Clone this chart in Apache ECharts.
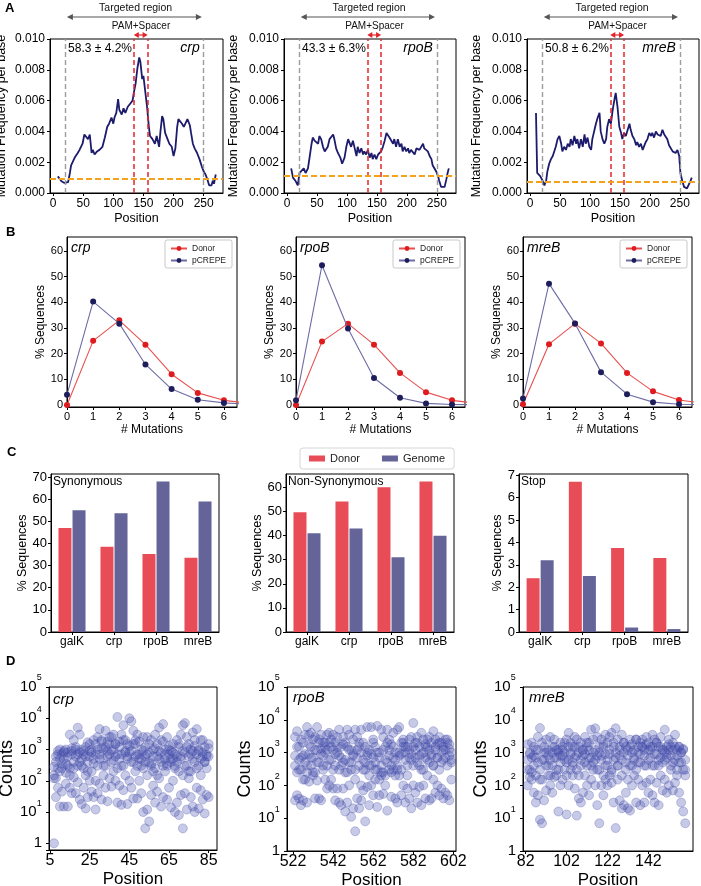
<!DOCTYPE html>
<html><head><meta charset="utf-8">
<script src="https://cdn.jsdelivr.net/npm/echarts@6/dist/echarts.min.js"></script>
<style>html,body{margin:0;padding:0;background:#fff}#c{width:701px;height:886px}</style>
</head><body><div id="c"></div>
<script>
// ================= DATA =================
const genes = ['crp', 'rpoB', 'mreB'];
// --- Panel A: mutation frequency per base ---
const aPercent = ['58.3 ± 4.2%', '43.3 ± 6.3%', '50.8 ± 6.2%'];
const aBaseline = [0.0009, 0.0011, 0.0007];
const regionBounds = [20, 250];
const pamBounds = [134, 157];
const posTicksA = [0, 50, 100, 150, 200, 250];
const crpPos = [8,14,19,25,28,30,36,41,44,49,52,55,58,61,64,66,69,73,77,82,86,90,93,97,100,102,105,108,110,114,117,120,124,128,132,134,137,140,143,145,148,150,153,156,159,161,165,169,172,176,178,181,183,186,190,193,197,200,203,206,208,211,214,217,220,223,227,229,232,235,239,243,247,250,253,256,259,263,265,267,270];
const crpFreq = [0.00108,0.00076,0.00065,0.0007,0.0013,0.0018,0.0023,0.0026,0.0028,0.0032,0.0038,0.0037,0.0035,0.0038,0.0026,0.0028,0.0025,0.0027,0.0028,0.003,0.0036,0.0043,0.0045,0.0049,0.0045,0.0049,0.0052,0.0061,0.0054,0.0051,0.0055,0.0052,0.0056,0.0058,0.006,0.0065,0.0071,0.0081,0.0088,0.0085,0.0074,0.0076,0.0066,0.0056,0.0043,0.0037,0.0035,0.0032,0.0037,0.003,0.0039,0.005,0.0048,0.0039,0.0035,0.0032,0.003,0.0024,0.0029,0.0043,0.0048,0.0049,0.0045,0.0043,0.0044,0.0048,0.0044,0.0039,0.0032,0.0029,0.0026,0.0022,0.0017,0.0014,0.0012,0.0009,0.0005,0.0005,0.0008,0.0006,0.0012];
const rpoBPos = [7,10,14,18,21,24,28,31,35,38,41,43,46,49,52,54,57,60,63,66,68,71,74,77,79,82,85,89,92,96,99,102,104,107,110,113,116,118,121,124,127,129,132,135,138,141,143,146,149,152,154,157,160,163,166,168,171,174,177,179,182,185,188,191,193,196,199,202,204,207,210,213,216,218,221,224,227,229,232,235,238,241,243,246,249,252,254,257,260,263,266,268,270];
const rpoBFreq = [0.0016,0.001,0.0008,0.0005,0.0013,0.0012,0.0016,0.0013,0.0016,0.0024,0.0032,0.0036,0.0034,0.0035,0.0032,0.0037,0.0035,0.003,0.0027,0.0028,0.003,0.0035,0.0035,0.0038,0.0035,0.0029,0.0026,0.0023,0.0019,0.0023,0.003,0.0035,0.0036,0.003,0.0034,0.0029,0.0024,0.003,0.0026,0.0029,0.0025,0.0027,0.0025,0.0028,0.0023,0.0026,0.0022,0.0025,0.0022,0.0025,0.0024,0.0027,0.003,0.0034,0.0039,0.004,0.0036,0.0037,0.0032,0.0035,0.003,0.0035,0.003,0.0032,0.0027,0.003,0.0027,0.0029,0.0026,0.0028,0.0027,0.0025,0.0029,0.003,0.0028,0.0029,0.0032,0.0029,0.0029,0.0027,0.0024,0.0022,0.0018,0.0017,0.0014,0.0011,0.0008,0.0004,0.0003,0.0004,0.0009,0.0013,0.0016];
const mreBPos = [10,12,17,21,24,27,29,32,35,38,41,43,46,49,52,54,57,60,63,66,68,71,74,77,79,82,85,88,91,93,96,99,102,104,107,110,113,116,118,121,124,127,129,132,135,138,141,143,146,149,152,154,157,160,163,166,168,171,174,177,179,182,185,188,191,193,196,199,202,204,207,210,213,216,218,221,224,227,229,232,235,238,241,243,246,249,251,254,257,259,262,265,268,270];
const mreBFreq = [0.0052,0.0013,0.0011,0.0008,0.0005,0.0008,0.0014,0.0019,0.0022,0.0024,0.0023,0.003,0.0035,0.0037,0.0032,0.0027,0.003,0.0028,0.0032,0.003,0.0035,0.0031,0.0037,0.0032,0.0035,0.0029,0.0035,0.003,0.0038,0.0032,0.0036,0.003,0.0028,0.0035,0.0035,0.0045,0.0049,0.0052,0.004,0.0035,0.0032,0.0035,0.0043,0.0048,0.0045,0.0054,0.0061,0.0065,0.0056,0.0043,0.0039,0.0035,0.0039,0.0037,0.0041,0.0045,0.0041,0.0037,0.0035,0.0031,0.0033,0.003,0.0032,0.0028,0.0029,0.0033,0.0035,0.0039,0.0037,0.0039,0.0036,0.004,0.0038,0.0039,0.0037,0.0041,0.0038,0.0039,0.0035,0.0031,0.003,0.0027,0.0028,0.0026,0.0028,0.0024,0.0013,0.0008,0.0004,0.0003,0.0003,0.0004,0.0008,0.001];

// --- Panel B: % sequences vs # mutations ---
const mutations = [0, 1, 2, 3, 4, 5, 6, 7];
const mutTicks = [0, 1, 2, 3, 4, 5, 6];
const seqTicksB = [0, 10, 20, 30, 40, 50, 60];
const crpDonor = [0, 25, 33, 23.5, 12, 4.7, 1.8, 0.6];
const crpPcrepe = [4, 40.3, 31.7, 15.8, 6.2, 2, 0.8, 0.2];
const rpoBDonor = [0, 24.7, 31.7, 23.5, 12.5, 5, 1.8, 0.6];
const rpoBPcrepe = [1.8, 54.5, 29.8, 10.5, 2.8, 0.6, 0.2, 0.05];
const mreBDonor = [0.3, 23.7, 31.7, 24, 12.5, 5.3, 1.9, 0.6];
const mreBPcrepe = [2.5, 47.3, 31.8, 12.8, 4.2, 1.1, 0.3, 0.1];

// --- Panel C: mutation classes ---
const geneCats = ['galK', 'crp', 'rpoB', 'mreB'];
const classNames = ['Synonymous', 'Non-Synonymous', 'Stop'];
const synDonor = [47, 38.5, 35.3, 33.6];
const synGenome = [55, 53.7, 68, 59];
const nonDonor = [49.7, 54.2, 60.1, 62.5];
const nonGenome = [41, 43, 31, 40];
const stopDonor = [2.4, 6.7, 3.75, 3.3];
const stopGenome = [3.2, 2.5, 0.2, 0.13];
const cTicks1 = [0, 10, 20, 30, 40, 50, 60, 70];
const cTicks2 = [0, 10, 20, 30, 40, 50, 60];
const cTicks3 = [0, 1, 2, 3, 4, 5, 6, 7];

// --- Panel D: counts per position ---
const crpStart = 7;
const crpCounts = [[1,150,280],[30,120,600],[60,250,900],[15,200,1000],[45,350,700],[15,500,900],[80,180,1000],[15,300,800],[60,250,3000],[40,700,1100],[130,400,2000],[40,600,1000],[90,300,5000],[25,800,3000],[18,500,1000],[60,250,700],[13,150,1200],[30,400,1700],[100,600,900],[45,200,1000],[30,500,2000],[12,100,1500],[40,300,2500],[80,700,4500],[25,1100,2000],[150,500,1000],[60,300,4000],[22,900,1800],[120,700,1500],[65,400,2500],[200,1000,3000],[100,600,1500],[20,250,11000],[70,500,1800],[17,700,3000],[50,300,6000],[150,900,2000],[18,500,1500],[100,800,10000],[60,400,8000],[27,1500,4000],[200,600,2000],[27,300,3000],[100,700,1800],[40,500,1000],[10,250,2500],[3,400,1200],[12,150,700],[5,800,1500],[35,300,2000],[70,600,1000],[20,250,3000],[45,150,1500],[120,500,5000],[15,800,2000],[30,300,6500],[200,500,1000],[25,350,2500],[60,700,1300],[14,400,900],[100,500,1500],[10,300,700],[20,600,2000],[8,200,1200],[35,500,3000],[3,150,6000],[40,800,7000],[12,300,2500],[120,600,1500],[30,200,1000],[15,900,3500],[10,400,2000],[60,700,4500],[13,300,1000],[50,150,2000],[25,600,800],[9,400,1200],[35,250,700],[30,600,1500]];
const crpExtra = [120,400,700,500,250,800,350,600,150,900,250,1200,700,400,300,900,600,200,1500,800,350,700,1000,500,1800,300,1200,600,2500,900,450,1500,700,1200,300,2000,800,600,1300,900,400,1500,700,500,300,900,600,2500,400,350,200,1100,600,900,400,1800,700,300,1000,500,800,250,400,1500,600,900,300,1200,200,700,500,1300,250,900,500,2000,400,600,1100];
const rpoBStart = 523;
const rpoBCounts = [[35,400,3000],[50,250,4500],[40,300,1500],[25,700,2500],[35,150,800],[150,500,3500],[30,250,6000],[130,900,3500],[400,1500,4000],[200,700,2500],[40,250,3000],[140,1200,6000],[40,500,2000],[35,1300,3500],[300,800,2000],[150,1000,1500],[80,400,3500],[100,2000,4000],[150,600,1500],[80,1200,3500],[35,400,2000],[80,1000,3000],[30,300,5000],[25,700,1500],[80,500,3000],[16,250,2000],[30,1500,5000],[100,500,3500],[11,300,1200],[20,800,2500],[4,150,5000],[40,1200,3000],[20,400,1500],[35,100,5000],[70,600,2000],[8,300,1500],[90,1000,6000],[25,200,1200],[100,400,6000],[50,700,2000],[150,500,1500],[22,300,6500],[50,150,1000],[200,400,5000],[55,250,3000],[100,200,1500],[17,500,5000],[300,1200,2500],[45,250,1800],[300,700,4000],[40,200,1000],[30,400,5000],[200,800,6000],[50,300,2000],[100,1500,2500],[30,600,1000],[80,200,1500],[40,700,2500],[20,900,3000],[100,400,8000],[60,1200,2000],[30,500,3000],[90,800,1500],[25,300,4000],[100,1000,2500],[40,700,1500],[200,1500,2500],[35,500,3000],[40,900,2000],[150,400,4500],[60,1200,2500],[100,700,1800],[50,300,3000],[80,1000,2000],[40,600,1500],[60,1200,2500],[50,400,2000],[35,800,1800],[150,500,1000]];
const rpoBExtra = [800,1500,600,300,2000,900,400,1800,700,250,1200,500,2500,900,400,2000,1200,600,2500,300,900,1500,800,400,1800,600,250,1200,500,900,300,700,2000,1000,300,500,800,400,900,2500,300,1000,700,250,1200,600,2000,800,400,1500,600,300,1000,900,2000,1500,400,1200,600,1500,700,2000,400,900,300,1800,600,1200,800,400,1500,700,2000,500,1200,700,2500,1300,600];
const mreBStart = 83;
const mreBCounts = [[100,600,1800],[180,300,1000],[250,700,2000],[60,1500,800],[30,200,1200],[50,500,3000],[9,150,5600],[7,600,2000],[35,1000,1500],[70,400,2500],[200,800,1200],[100,600,3000],[60,400,1000],[180,1500,2500],[200,700,1200],[16,300,1000],[100,800,2000],[150,1200,1500],[300,600,1000],[13,500,2500],[100,1500,4000],[300,900,2000],[200,500,1500],[80,700,3000],[12,300,2500],[40,1000,1500],[30,400,2000],[60,800,1200],[200,500,3000],[100,1500,2000],[50,700,1200],[150,400,5000],[300,1000,2500],[100,600,5500],[25,800,3000],[7,300,1500],[100,600,2500],[50,200,1500],[150,900,3500],[100,400,2000],[200,1200,3000],[120,300,4000],[30,600,2000],[5,1000,5500],[150,400,2500],[35,800,1500],[20,200,3500],[25,1000,2000],[60,500,1500],[20,150,1200],[17,400,2500],[100,1000,1800],[200,600,1200],[30,300,2500],[150,1000,1500],[25,500,2000],[100,1500,2500],[30,800,1200],[120,400,3000],[60,1200,2000],[150,700,1500],[50,1500,3500],[30,400,2500],[120,900,2000],[25,600,1500],[200,1500,3000],[70,500,1200],[150,1000,5000],[60,700,1500],[100,1200,2500],[300,800,1500],[70,500,1200],[120,1500,3500],[200,800,1200],[60,500,1500],[30,1000,1000],[16,300,1300],[7,200,600]];
const mreBExtra = [300,900,150,400,700,1200,300,150,600,1000,400,200,1500,700,300,1200,500,800,2000,200,600,1000,400,1500,800,200,600,1200,900,400,2000,700,500,1200,300,1000,800,1800,400,600,900,250,1500,700,400,1200,600,2000,300,800,1500,400,700,2500,500,900,1500,400,1800,600,1200,400,900,2000,400,700,1200,600,900,1800,400,2000,600,300,1500,500,1200,300];
const dTicks = [[5,25,45,65,85],[522,542,562,582,602],[82,102,122,142]];

// ================= LAYOUT / STYLE =================
const FF = 'Liberation Sans, Arial, Helvetica, sans-serif';
const gridsA = [{left:50,width:173},{left:284,width:172},{left:527,width:172}].map(g=>Object.assign({top:39,height:154},g));
const gridsB = [{left:67,width:170},{left:296,width:169},{left:523,width:169}].map(g=>Object.assign({top:237,height:170},g));
const gridsC = [{left:51,width:168},{left:286,width:168},{left:519,width:169}].map(g=>Object.assign({top:474,height:158},g));
const gridsD = [{left:49,width:168,height:163},{left:287,width:169,height:164},{left:523,width:170,height:164}].map(g=>Object.assign({top:687},g));
const allGrids = [].concat(gridsA, gridsB, gridsC, gridsD).map(g => Object.assign({show:true, borderColor:'#000', borderWidth:1, backgroundColor:'transparent', containLabel:false, outerBoundsMode:'none'}, g));

function mkAxis(gi, type, opt) {
  const a = {type, gridIndex: gi, nameLocation:'middle',
    axisLine:{show:true,onZero:false,lineStyle:{color:'#000',width:1}},
    splitLine:{show:false},
    axisTick:{show:true,length:3,lineStyle:{color:'#000',width:1}},
    axisLabel:{color:'#000',fontFamily:FF,fontSize:12,margin:5},
    nameTextStyle:{color:'#000',fontFamily:FF,fontSize:12}};
  for (const k in opt) {
    if (a[k] && typeof a[k]==='object' && !Array.isArray(a[k]) && opt[k] && typeof opt[k]==='object' && !Array.isArray(opt[k])) a[k]=Object.assign({},a[k],opt[k]);
    else a[k]=opt[k];
  }
  return a;
}

const xAxes = [], yAxes = [], series = [];
const aPos = [crpPos, rpoBPos, mreBPos], aFreq = [crpFreq, rpoBFreq, mreBFreq];
const bDonor = [crpDonor, rpoBDonor, mreBDonor], bPcrepe = [crpPcrepe, rpoBPcrepe, mreBPcrepe];
const cDonor = [synDonor, nonDonor, stopDonor], cGenome = [synGenome, nonGenome, stopGenome];
const cTicks = [cTicks1, cTicks2, cTicks3], cMax = [71.4, 65.6, 7.05];
const dStart = [crpStart, rpoBStart, mreBStart], dCounts = [crpCounts, rpoBCounts, mreBCounts];
const dExtra = [crpExtra, rpoBExtra, mreBExtra];
const dRange = [[4.5, 89.2], [519, 603.3], [80.7, 163.8]];
const dMin = [0.61, 1, 1];

// ---- A ----
for (let i = 0; i < 3; i++) {
  xAxes.push(mkAxis(i, 'value', {min:-5, max:282, name:'Position', nameGap:19, nameTextStyle:{fontSize:12.5},
    axisLabel:{customValues:posTicksA, fontSize:12, margin:5}, axisTick:{customValues:posTicksA}}));
  yAxes.push(mkAxis(i, 'value', {min:0, max:0.01, interval:0.002, name:'Mutation Frequency per base', nameGap: i===0?42:44,
    nameTextStyle:{fontSize:12.5}, axisLabel:{formatter:v=>v.toFixed(3), fontSize:12, margin:5}}));
  series.push({type:'line', xAxisIndex:i, yAxisIndex:i, showSymbol:false, symbol:'none',
    data: aPos[i].map((p,k)=>[p, aFreq[i][k]]),
    lineStyle:{color:'#1d1b6c', width:1.8}, z:3,
    markLine:{silent:true, precision:6, symbol:['none','none'], label:{show:false}, animation:false,
      data:[
        {xAxis:regionBounds[0], lineStyle:{color:'#9b9b9b', type:[5,3], width:1.4}},
        {xAxis:regionBounds[1], lineStyle:{color:'#9b9b9b', type:[5,3], width:1.4}},
        {xAxis:pamBounds[0], lineStyle:{color:'#e3242b', type:[5,3], width:1.5}},
        {xAxis:pamBounds[1], lineStyle:{color:'#e3242b', type:[5,3], width:1.5}},
        {yAxis:aBaseline[i], lineStyle:{color:'#f4a21c', type:[6,3], width:2}}
      ]}});
}
// ---- B ----
for (let i = 0; i < 3; i++) {
  const gi = 3 + i;
  xAxes.push(mkAxis(gi, 'value', {min:0, max:6.5, name:'# Mutations', nameGap:17,
    axisLabel:{customValues:mutTicks, fontSize:11, margin:4}, axisTick:{customValues:mutTicks}}));
  yAxes.push(mkAxis(gi, 'value', {min:-0.8, max:65.5, name:'% Sequences', nameGap:20,
    axisLabel:{customValues:seqTicksB, fontSize:11, margin:4}, axisTick:{customValues:seqTicksB}}));
  series.push({type:'line', name:'Donor', xAxisIndex:gi, yAxisIndex:gi, data:mutations.map((m,k)=>[m,bDonor[i][k]]),
    symbol:'circle', symbolSize:6, lineStyle:{color:'#e8504f', width:1.1}, itemStyle:{color:'#df1b1f'}, z:3});
  series.push({type:'line', name:'pCREPE', xAxisIndex:gi, yAxisIndex:gi, data:mutations.map((m,k)=>[m,bPcrepe[i][k]]),
    symbol:'circle', symbolSize:6, lineStyle:{color:'#6d6da6', width:1.1}, itemStyle:{color:'#1e1d5c'}, z:4});
}
// ---- C ----
for (let i = 0; i < 3; i++) {
  const gi = 6 + i;
  xAxes.push(mkAxis(gi, 'category', {data:geneCats, boundaryGap:true, axisTick:{alignWithLabel:true}, axisLabel:{fontSize:12, margin:4}}));
  yAxes.push(mkAxis(gi, 'value', {min:0, max:cMax[i], name:'% Sequences', nameGap: i===2?15:22, nameTextStyle:{fontSize:12.5},
    axisLabel:{customValues:cTicks[i], fontSize:13, margin:4}, axisTick:{customValues:cTicks[i]}}));
  series.push({type:'bar', name:'Donor', xAxisIndex:gi, yAxisIndex:gi, data:cDonor[i], barWidth:13, barGap:'8%',
    itemStyle:{color:'#e84c56'}});
  series.push({type:'bar', name:'Genome', xAxisIndex:gi, yAxisIndex:gi, data:cGenome[i], barWidth:13, barGap:'8%',
    itemStyle:{color:'#656498'}});
}
// ---- D ----
function logFmt(v) {
  const e = Math.log10(v), r = Math.round(e);
  if (Math.abs(e - r) > 1e-6 || r < 0) return '';
  if (r === 0) return '{b|1}';
  return '{b|10}{s|' + r + '}{h| }';
}
for (let i = 0; i < 3; i++) {
  const gi = 9 + i;
  xAxes.push(mkAxis(gi, 'value', {min:dRange[i][0], max:dRange[i][1], name:'Position', nameGap:21, nameTextStyle:{fontSize:17},
    axisLabel:{customValues:dTicks[i], fontSize:16, margin:3}, axisTick:{customValues:dTicks[i]}}));
  yAxes.push(mkAxis(gi, 'log', {logBase:10, min:dMin[i], max:100000, name:'Counts', nameGap:33, nameTextStyle:{fontSize:18},
    axisLabel:{formatter:logFmt, margin:7, rich:{
      b:{fontSize:15, lineHeight:15, verticalAlign:'middle', fontFamily:FF, color:'#000'},
      s:{fontSize:9, lineHeight:9, verticalAlign:'top', fontFamily:FF, color:'#000'},
      h:{fontSize:1, lineHeight:27}}}}));
  const pts = [];
  dCounts[i].forEach((t, k) => {
    t.forEach(c => pts.push([dStart[i] + k, c]));
    pts.push([dStart[i] + k, dExtra[i][k]]);
  });
  series.push({type:'scatter', xAxisIndex:gi, yAxisIndex:gi, data:pts, symbolSize:9,
    itemStyle:{color:'rgba(72,82,172,0.38)', borderColor:'rgba(60,68,165,0.5)', borderWidth:0.7}});
}

// ---- legends ----
const legends = [165, 393, 620].map(l => ({left:l, top:240, orient:'vertical', data:['Donor','pCREPE'],
  itemWidth:16, itemHeight:6, itemGap:3, padding:[4,6,3,5], selectedMode:false,
  textStyle:{fontSize:8.5, fontFamily:FF, color:'#222'}, borderColor:'#bbb', borderWidth:0.8, borderRadius:2, backgroundColor:'#fff'}));
legends.push({left:300, top:448, orient:'horizontal', selectedMode:false, itemWidth:16, itemHeight:6, itemGap:22,
  padding:[5,9,5,9], borderColor:'#ccc', borderWidth:0.8, borderRadius:3,
  textStyle:{fontSize:11, fontFamily:FF, color:'#222'},
  data:[{name:'Donor', icon:'rect', itemStyle:{color:'#e84c56'}}, {name:'Genome', icon:'rect', itemStyle:{color:'#656498'}}]});

// ---- static texts ----
function txt(x, y, s, font, align, color) {
  return {type:'text', x, y, silent:true, z:100, style:{text:s, font, fill:color||'#000',
    align:align||'left', verticalAlign:'middle', textAlign:align||'left', textVerticalAlign:'middle'}};
}
const graphics = [
  txt(5, 8, 'A', 'bold 13px ' + FF), txt(6, 232, 'B', 'bold 13px ' + FF),
  txt(7, 452, 'C', 'bold 13px ' + FF), txt(6, 661, 'D', 'bold 13px ' + FF)
];
gridsB.forEach((g, i) => graphics.push(txt(g.left + 4, g.top + 11, genes[i], 'italic 14px ' + FF)));
gridsC.forEach((g, i) => graphics.push(txt(g.left + 2, g.top + 8, classNames[i], '12px ' + FF)));
gridsD.forEach((g, i) => graphics.push(txt(g.left + (i===0?4:6), g.top + (i===0?13:11), genes[i], 'italic 15px ' + FF)));

const chart = echarts.init(document.getElementById('c'), null, {renderer:'canvas'});
chart.setOption({animation:false, backgroundColor:'#fff', textStyle:{fontFamily:FF},
  grid: allGrids, xAxis: xAxes, yAxis: yAxes, series, legend: legends, graphic: graphics});

// ---- A annotations (arrows, labels) positioned via the axes ----
function arrowEls(x1, x2, y, color, head, half, lw) {
  return [
    {type:'line', silent:true, z:100, shape:{x1:x1+head-1, y1:y, x2:x2-head+1, y2:y}, style:{stroke:color, lineWidth:lw}},
    {type:'polygon', silent:true, z:100, shape:{points:[[x1,y],[x1+head,y-half],[x1+head,y+half]]}, style:{fill:color}},
    {type:'polygon', silent:true, z:100, shape:{points:[[x2,y],[x2-head,y-half],[x2-head,y+half]]}, style:{fill:color}}
  ];
}
const extra = [];
for (let i = 0; i < 3; i++) {
  const px = v => chart.convertToPixel({xAxisIndex:i}, v);
  const py = v => chart.convertToPixel({yAxisIndex:i}, v);
  extra.push(...arrowEls(px(23), px(247), 17, '#555', 6, 3, 1.1));
  extra.push(txt(px(137), 8.5, 'Targeted region', '10.5px ' + FF, 'center', '#111'));
  extra.push(txt(px(146), 26.5, 'PAM+Spacer', '10px ' + FF, 'center', '#111'));
  extra.push(...arrowEls(px(pamBounds[0]), px(pamBounds[1]), 35, '#e3242b', 5, 3, 1.2));
  extra.push(txt(px(regionBounds[0]) + 3, py(0.0094), aPercent[i], '12px ' + FF));
  extra.push(txt(px(regionBounds[1]) - 4, py(0.0094), genes[i], 'italic 14px ' + FF, 'right'));
}
chart.setOption({graphic: graphics.concat(extra)});
</script></body></html>
